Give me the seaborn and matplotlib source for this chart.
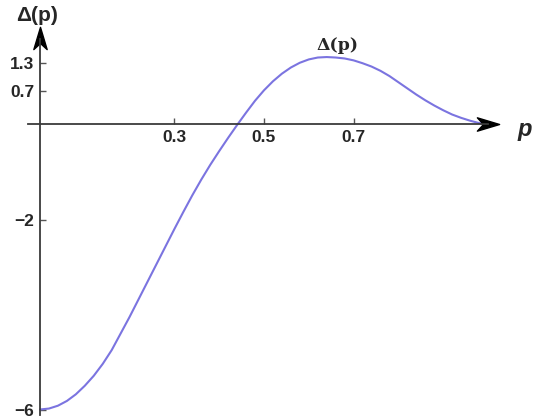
import numpy as np
import pandas as pd
import matplotlib
matplotlib.use("Agg")
import matplotlib.pyplot as plt
from matplotlib.path import Path
import seaborn as sns

# Gap function Δ(p) sampled over p in [0, 1]
p_values = [0.00, 0.02, 0.04, 0.06, 0.08, 0.10, 0.12, 0.14, 0.16, 0.18,
            0.20, 0.22, 0.24, 0.26, 0.28, 0.30, 0.32, 0.34, 0.36, 0.38,
            0.40, 0.42, 0.44, 0.46, 0.48, 0.50, 0.52, 0.54, 0.56, 0.58,
            0.60, 0.62, 0.64, 0.66, 0.68, 0.70, 0.72, 0.74, 0.76, 0.78,
            0.80, 0.82, 0.84, 0.86, 0.88, 0.90, 0.92, 0.94, 0.96, 0.98,
            1.00]
delta_values = [-6.00, -5.98, -5.92, -5.82, -5.68, -5.50, -5.29, -5.04, -4.75, -4.40,
                -4.05, -3.68, -3.31, -2.94, -2.57, -2.20, -1.84, -1.49, -1.16, -0.85,
                -0.56, -0.28, -0.01, 0.25, 0.50, 0.72, 0.91, 1.07, 1.20, 1.30,
                1.37, 1.41, 1.42, 1.41, 1.39, 1.35, 1.29, 1.22, 1.13, 1.02,
                0.89, 0.76, 0.63, 0.51, 0.40, 0.30, 0.21, 0.14, 0.08, 0.03,
                0.00]

x_ticks = [0.3, 0.5, 0.7]
y_ticks = [-6, -2, 0.7, 1.3]
y_tick_labels = ["\u22126", "\u22122", "0.7", "1.3"]

curve_color = "#7b74e0"
axis_color = "#3a3a3a"

df = pd.DataFrame({"p": p_values, "delta": delta_values})

sns.set_style("white")
plt.rcParams["font.family"] = ["Liberation Sans", "DejaVu Sans"]

fig = plt.figure(figsize=(5.34, 4.20), dpi=100)
ax = fig.add_axes([0, 0, 1, 1])

sns.lineplot(data=df, x="p", y="delta", ax=ax, color=curve_color,
             linewidth=1.5, sort=False)

ax.set_xlim(-0.0893, 1.1027)
ax.set_ylim(-6.221, 2.621)

# Axes crossing at the origin
for side in ("top", "right"):
    ax.spines[side].set_visible(False)
ax.spines["left"].set_position(("data", 0))
ax.spines["bottom"].set_position(("data", 0))
ax.spines["left"].set_bounds(-6.11, 1.8)
ax.spines["bottom"].set_bounds(-0.027, 1.0)
for side in ("left", "bottom"):
    ax.spines[side].set_color(axis_color)
    ax.spines[side].set_linewidth(1.3)

# Stealth-style arrowheads at the axis ends
arrow = Path([(1.0, 0.0), (-1.0, 0.6), (-0.45, 0.0), (-1.0, -0.6), (1.0, 0.0)],
             [Path.MOVETO, Path.LINETO, Path.LINETO, Path.LINETO, Path.CLOSEPOLY])
arrow_up = Path([(0.0, 1.0), (0.6, -1.0), (0.0, -0.45), (-0.6, -1.0), (0.0, 1.0)],
                [Path.MOVETO, Path.LINETO, Path.LINETO, Path.LINETO, Path.CLOSEPOLY])
ax.plot([1.0], [0], marker=arrow, markersize=16, color="black", clip_on=False)
ax.plot([0], [1.83], marker=arrow_up, markersize=16, color="black", clip_on=False)

ax.set_xticks(x_ticks)
ax.set_xticklabels([f"{t:.1f}" for t in x_ticks])
ax.set_yticks(y_ticks)
ax.set_yticklabels(y_tick_labels)
ax.tick_params(axis="both", direction="in", length=4, width=1.0,
               color="#555555", labelsize=12.5, pad=4,
               bottom=True, left=True)
for lbl in ax.get_xticklabels() + ax.get_yticklabels():
    lbl.set_fontweight("bold")
ax.set_xlabel("")
ax.set_ylabel("")

# Axis titles and curve label
ax.text(0.07, 0.963, "\u0394(p)", transform=ax.transAxes, ha="center",
        va="center", fontsize=15, fontweight="bold")
ax.text(0.982, 0.692, "p", transform=ax.transAxes, ha="center", va="center",
        fontsize=17, fontweight="bold", fontstyle="italic")
ax.text(0.665, 1.67, "\u0394(p)", ha="center", va="center", fontsize=12.5,
        fontweight="bold", family=["DejaVu Serif"])

fig.savefig("out.png", dpi=100)
